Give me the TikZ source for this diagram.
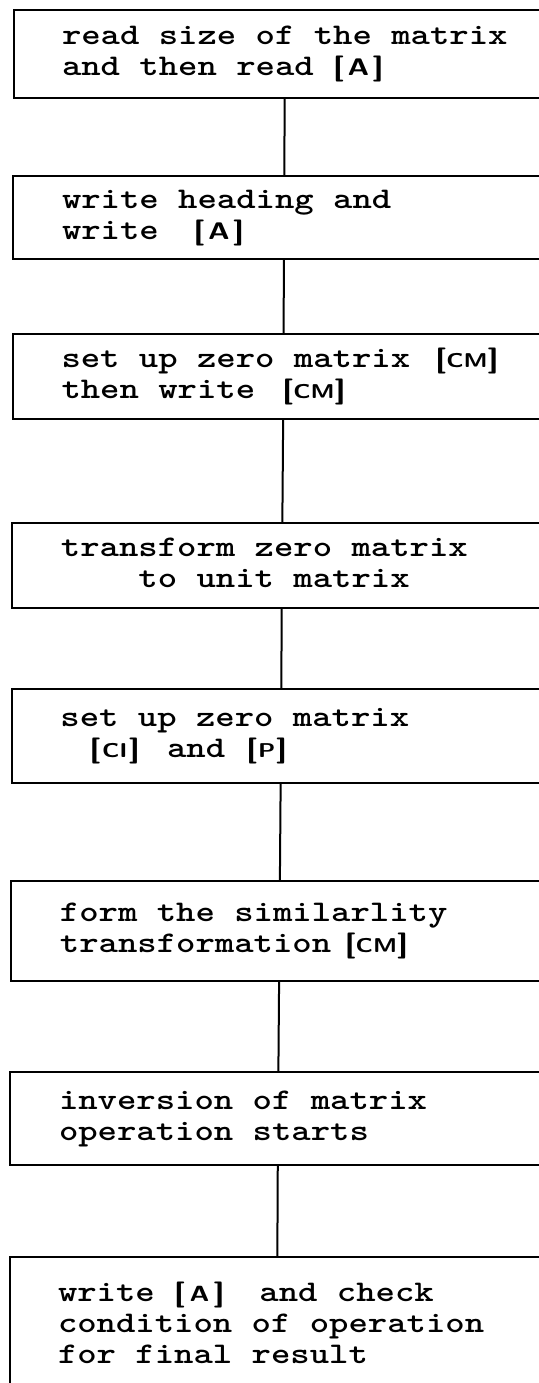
\documentclass[tikz,border=0pt]{standalone}
\newlength\pitch
\setlength\pitch{7.875pt}
% bracketed label: #1 width in pitches, #2 letter size, #3 letters
\newcommand\lab[3]{\hbox to #1\pitch{\sffamily\fontsize{13}{13}\selectfont[\hfil{\fontsize{#2}{#2}\selectfont #3}\hfil]}}
% box text: #1 block width, #2 lines
\newcommand\boxtext[2]{\makebox[#1][l]{\scalebox{1.23}[1]{\ttfamily\bfseries\fontsize{15}{15.5}\selectfont\begin{tabular}{@{}l@{}}#2\end{tabular}}}}
\begin{document}
\begin{tikzpicture}[x=0.5pt, y=-0.5pt,
  stepbox/.style={draw, line width=1pt, rectangle, inner sep=0pt, anchor=center},
  conn/.style={line width=1pt}]
\useasboundingbox (0,0) rectangle (539,1383);
\fill[white] (0,0) rectangle (539,1383);
\clip (0,0) rectangle (539,1383);

\node[stepbox, minimum width=271.5pt, minimum height=44pt] (b1) at (285,54)
  {\boxtext{223pt}{read size of the matrix\\and then read \lab{2.6}{12}{A}}};
\node[stepbox, minimum width=271pt, minimum height=41.5pt] (b2) at (284,217.5)
  {\boxtext{222pt}{write heading and\\write\hspace*{1.8\pitch}\lab{2.6}{12}{A}}};
\node[stepbox, minimum width=271pt, minimum height=42.5pt] (b3) at (283.5,376.5)
  {\boxtext{222pt}{set up zero matrix\hspace*{1.3\pitch}\lab{3}{10}{CM}\\then write\hspace*{1.4\pitch}\lab{3}{10}{CM}}};
\node[stepbox, minimum width=270pt, minimum height=42.5pt] (b4) at (282,565.5)
  {\boxtext{221pt}{transform zero matrix\\\hspace*{4\pitch}to unit matrix}};
\node[stepbox, minimum width=269.5pt, minimum height=47pt] (b5) at (281,736)
  {\boxtext{220.5pt}{set up zero matrix\\\hspace*{1.5\pitch}\lab{2.6}{10}{CI}\hspace*{1.4\pitch}and\hspace*{1.1\pitch}\lab{2.1}{10}{P}}};
\node[stepbox, minimum width=268.5pt, minimum height=50pt] (b6) at (279.5,931)
  {\boxtext{219.5pt}{form the similarlity\\transformation\hspace*{0.7\pitch}\lab{3.2}{10}{CM}}};
\node[stepbox, minimum width=268pt, minimum height=46.5pt] (b7) at (278,1118.5)
  {\boxtext{219pt}{inversion of matrix\\operation starts}};
\node[stepbox, minimum width=267.5pt, minimum height=69.5pt] (b8) at (277,1326.5)
  {\boxtext{219pt}{write \lab{2.6}{11}{A}\hspace*{1.8\pitch}and check\\condition of operation\\for final result}};

\draw[conn] (b1) -- (b2);
\draw[conn] (b2) -- (b3);
\draw[conn] (b3) -- (b4);
\draw[conn] (b4) -- (b5);
\draw[conn] (b5) -- (b6);
\draw[conn] (b6) -- (b7);
\draw[conn] (b7) -- (b8);
\end{tikzpicture}
\end{document}
